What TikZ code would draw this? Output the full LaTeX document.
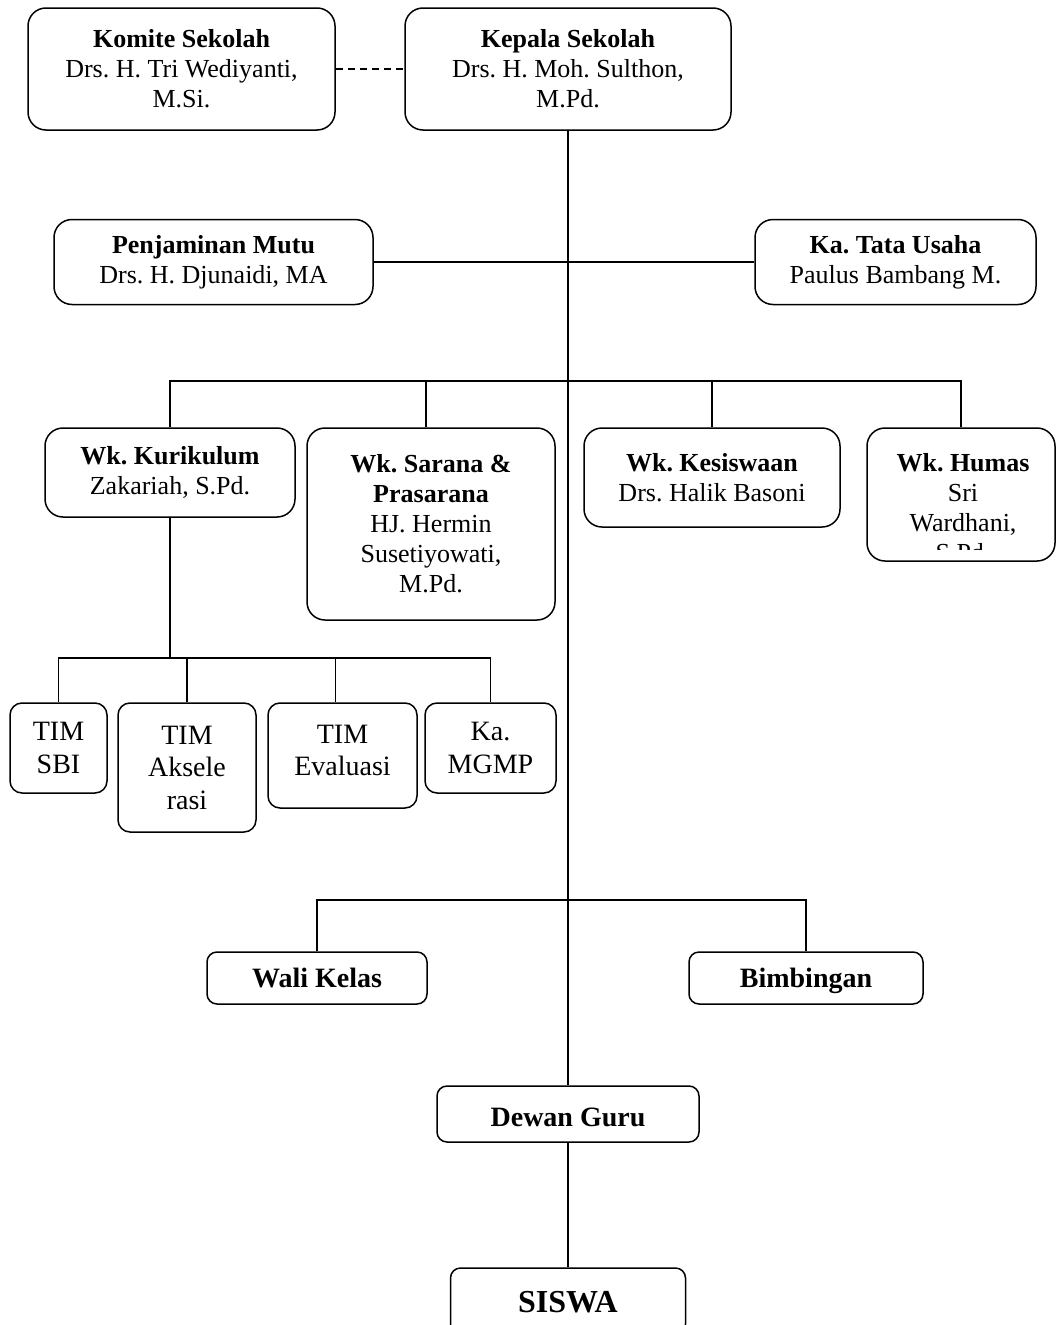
\documentclass[tikz,border=0pt]{standalone}
\usepackage{fontspec}
\setmainfont{Liberation Serif}
\usetikzlibrary{positioning}
\frenchspacing

\begin{document}
\begin{tikzpicture}[x=1pt,y=-1pt,
  unit/.style={draw, line width=1.5pt, rounded corners=18pt, align=center,
    inner sep=0pt, font=\fontsize{26}{30}\selectfont},
  tim/.style={draw, line width=1.5pt, rounded corners=12pt, align=center,
    inner sep=0pt, font=\fontsize{28}{32.5}\selectfont},
  low/.style={draw, line width=1.5pt, rounded corners=10pt, align=center,
    inner sep=0pt, text height=24pt, text depth=6pt, font=\fontsize{28}{32}\selectfont\bfseries},
  link/.style={line width=1.5pt}]
  \useasboundingbox (0,0) rectangle (1056,1325);
  \clip (0,0) rectangle (1056,1325);

  % pimpinan
  \node[unit, minimum width=307pt, minimum height=122pt] (komite) at (181.5,69)
    {\textbf{Komite Sekolah}\\Drs. H. Tri Wediyanti,\\M.Si.};
  \node[unit, minimum width=326pt, minimum height=122pt] (kepala) at (568,69)
    {\textbf{Kepala Sekolah}\\Drs. H. Moh. Sulthon,\\M.Pd.};
  \node[unit, minimum width=319pt, minimum height=85pt] (mutu) at (213.5,262)
    {\textbf{Penjaminan Mutu}\\Drs. H. Djunaidi, MA};
  \node[unit, minimum width=281pt, minimum height=85pt] (tu) at (895.5,262)
    {\textbf{Ka. Tata Usaha}\\Paulus Bambang M.};

  % wakil kepala
  \node[unit, minimum width=250pt, minimum height=89pt] (kurikulum) at (170,472.5)
    {\textbf{Wk. Kurikulum}\\Zakariah, S.Pd.};
  \node[unit, minimum width=248pt, minimum height=192pt] (sarana) at (431,524)
    {\textbf{Wk. Sarana \&}\\\textbf{Prasarana}\\HJ. Hermin\\Susetiyowati,\\M.Pd.};
  \node[unit, minimum width=256pt, minimum height=99pt] (kesiswaan) at (712,477.5)
    {\textbf{Wk. Kesiswaan}\\Drs. Halik Basoni};
  \node[unit, minimum width=188pt, minimum height=133pt] (humas) at (961,494.5) {};
  \begin{scope}
    \clip (humas.north west) rectangle ([yshift=12pt]humas.south east);
    \node[align=center, font=\fontsize{26}{30}\selectfont] (humastext) at (963,508)
      {\textbf{Wk. Humas}\\Sri\\Wardhani,\\S.Pd.};
  \end{scope}

  % tim kurikulum
  \node[tim, minimum width=97pt, minimum height=90pt] (sbi) at (58.5,748) {TIM\\SBI};
  \node[tim, minimum width=138pt, minimum height=129pt] (aksel) at (187,767.5) {TIM\\Aksele\\rasi};
  \node[tim, minimum width=149pt, minimum height=105pt] (eval) at (342.5,755.5) {TIM\\Evaluasi\\[-22.5pt]};
  \node[tim, minimum width=131pt, minimum height=90pt] (mgmp) at (490.5,748) {Ka.\\MGMP};

  % pelaksana
  \node[low, minimum width=220pt, minimum height=52pt] (wali) at (317,978) {Wali Kelas};
  \node[low, minimum width=234pt, minimum height=52pt] (bimbingan) at (806,978) {Bimbingan};
  \node[low, minimum width=262pt, minimum height=56pt, text height=30pt] (dewan) at (568,1114) {Dewan Guru};
  \node[low, minimum width=235pt, minimum height=66pt, text height=29pt,
    font=\fontsize{32}{36}\selectfont\bfseries] (siswa) at (568,1301) {SISWA};

  % garis
  \coordinate (bus) at (568,381);
  \coordinate (bbus) at (568,900);
  \draw[link, dash pattern=on 7pt off 5pt] (komite.east) -- (kepala.west);
  \draw[link] (kepala.south) -- (dewan.north);
  \draw[link] (mutu.east) -- (tu.west);
  \draw[link] (kurikulum.north) -- (kurikulum.north |- bus) -- (humas.north |- bus) -- (humas.north);
  \draw[link] ([xshift=-5pt]sarana.north) -- ([xshift=-5pt]sarana.north |- bus);
  \draw[link] (kesiswaan.north) -- (kesiswaan.north |- bus);
  \draw[link] (kurikulum.south) -- ++(0,140) coordinate (kbus);
  \draw[link] (sbi.north) -- (sbi.north |- kbus) -- (mgmp.north |- kbus) -- (mgmp.north);
  \draw[link] (aksel.north) -- (aksel.north |- kbus);
  \draw[link] ([xshift=-7pt]eval.north) -- ([xshift=-7pt]eval.north |- kbus);
  \draw[link] (wali.north) -- (wali.north |- bbus) -- (bimbingan.north |- bbus) -- (bimbingan.north);
  \draw[link] (dewan.south) -- (siswa.north);
\end{tikzpicture}
\end{document}
